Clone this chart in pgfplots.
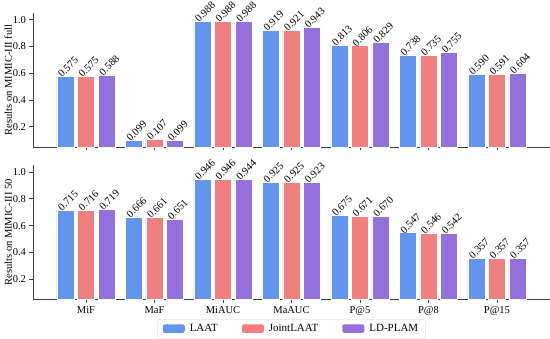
\documentclass[border=0pt]{standalone}
\usepackage{pgfplots}
\pgfplotsset{compat=1.18}
\usepackage{fontspec}
\setmainfont{Liberation Serif}
\definecolor{cLAAT}{HTML}{6495ED}
\definecolor{cJoint}{HTML}{F08080}
\definecolor{cLD}{HTML}{9370DB}
\pgfplotsset{
  mybars/.style={
    width=517pt, height=134pt, scale only axis,
    xmin=-0.774, xmax=6.774, ymin=0.05, ymax=1.05,
    axis x line*=bottom, axis y line*=left,
    axis line style={black!75, line width=0.8pt},
    tick style={black!75, line width=0.8pt},
    tick align=outside, major tick length=3.5pt,
    xtick={0,...,6},
    ytick={0.2,0.4,0.6,0.8,1.0},
    yticklabel style={/pgf/number format/fixed,/pgf/number format/fixed zerofill,/pgf/number format/precision=1},
    /pgf/number format/assume math mode=true,
    ybar, bar width=0.25,
    clip=false,
    font=\fontsize{10.5}{12}\selectfont,
    ticklabel style={font=\fontsize{10.5}{12}\selectfont},
    ylabel style={font=\fontsize{10.5}{12}\selectfont, at={(axis description cs:-0.048,0.5)}, anchor=center},
    nodes near coords={\pgfmathprintnumber[fixed,fixed zerofill,precision=3]{\pgfplotspointmeta}},
    every node near coord/.append style={rotate=45, anchor=south west, inner sep=1pt, xshift=-4.5pt, font=\fontsize{10.5}{12}\selectfont, text=black},
    legend image code/.code={\draw[#1, draw=none] (0pt,-4pt) rectangle (22pt,4.5pt);},
  }
}
\begin{document}
\begin{tikzpicture}
\begin{axis}[mybars, at={(0pt,0pt)}, anchor=south west,
  xticklabels={}, ylabel={Results on MIMIC-III full}]
\addplot[fill=cLAAT, draw=white, line width=0.5pt, bar shift=-0.3] coordinates {(0,0.575) (1,0.099) (2,0.988) (3,0.919) (4,0.813) (5,0.738) (6,0.590)};
\addplot[fill=cJoint, draw=white, line width=0.5pt, bar shift=0] coordinates {(0,0.575) (1,0.107) (2,0.988) (3,0.921) (4,0.806) (5,0.735) (6,0.591)};
\addplot[fill=cLD, draw=white, line width=0.5pt, bar shift=0.3] coordinates {(0,0.588) (1,0.099) (2,0.988) (3,0.943) (4,0.829) (5,0.755) (6,0.604)};
\end{axis}
\begin{axis}[mybars, at={(0pt,-152.3pt)}, anchor=south west,
  xticklabels={MiF,MaF,MiAUC,MaAUC,P@5,P@8,P@15},
  ylabel={Results on MIMIC-III 50},
  legend columns=3,
  legend style={at={(0.5,-0.149)}, anchor=north, draw=black!20, rounded corners=2pt,
    font=\fontsize{11}{13}\selectfont, inner xsep=5pt, inner ysep=3pt,
    /tikz/every even column/.append style={column sep=22pt},
    /tikz/every odd column/.append style={column sep=3pt}},
  legend cell align=left]
\addplot[fill=cLAAT, draw=white, line width=0.5pt, bar shift=-0.3] coordinates {(0,0.715) (1,0.666) (2,0.946) (3,0.925) (4,0.675) (5,0.547) (6,0.357)};
\addplot[fill=cJoint, draw=white, line width=0.5pt, bar shift=0] coordinates {(0,0.716) (1,0.661) (2,0.946) (3,0.925) (4,0.671) (5,0.546) (6,0.357)};
\addplot[fill=cLD, draw=white, line width=0.5pt, bar shift=0.3] coordinates {(0,0.719) (1,0.651) (2,0.944) (3,0.923) (4,0.670) (5,0.542) (6,0.357)};
\legend{LAAT,JointLAAT,LD-PLAM}
\end{axis}
\pgfresetboundingbox
\path (-33pt,-192pt) rectangle (517pt,147pt);
\end{tikzpicture}
\end{document}
